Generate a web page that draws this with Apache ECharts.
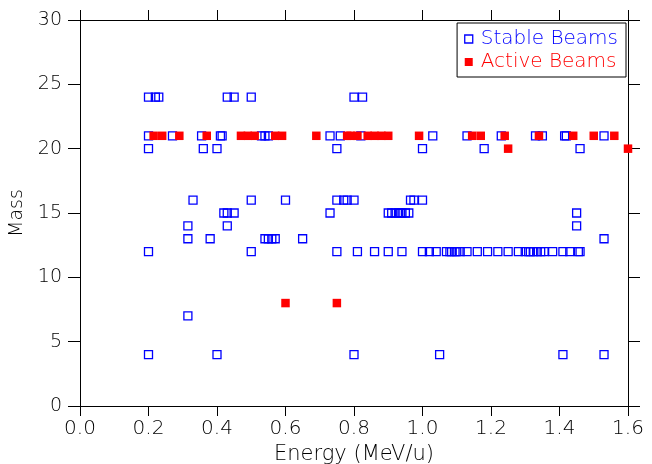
<!DOCTYPE html>
<html><head><meta charset="utf-8">
<script src="https://cdn.jsdelivr.net/npm/echarts@6/dist/echarts.min.js"></script>
<style>html,body{margin:0;padding:0;background:#fff}#c{width:652px;height:464px}</style>
</head><body><div id="c"></div>
<script>
// Stable beams: energy (MeV/u) values for each mass row
const stableMass24 = [0.20, 0.22, 0.23, 0.43, 0.45, 0.50, 0.80, 0.825];
const stableMass21 = [0.20, 0.27, 0.355, 0.41, 0.415, 0.53, 0.54, 0.55, 0.73, 0.76, 0.82, 1.03, 1.13, 1.23, 1.33, 1.35, 1.415, 1.42, 1.53];
const stableMass20 = [0.20, 0.36, 0.40, 0.75, 1.00, 1.18, 1.46];
const stableMass16 = [0.33, 0.50, 0.60, 0.75, 0.77, 0.78, 0.80, 0.965, 0.975, 1.00];
const stableMass15 = [0.42, 0.43, 0.45, 0.73, 0.90, 0.91, 0.92, 0.93, 0.935, 0.94, 0.95, 0.96, 1.45];
const stableMass14 = [0.315, 0.43, 1.45];
const stableMass13 = [0.315, 0.38, 0.54, 0.55, 0.56, 0.57, 0.65, 1.53];
const stableMass12 = [0.20, 0.50, 0.75, 0.81, 0.86, 0.90, 0.94, 1.00, 1.02, 1.04, 1.07, 1.08, 1.085, 1.095, 1.10, 1.11, 1.13, 1.16, 1.19, 1.22, 1.25, 1.28, 1.30, 1.31, 1.315, 1.325, 1.335, 1.345, 1.355, 1.38, 1.41, 1.43, 1.455, 1.46];
const stableMass7 = [0.315];
const stableMass4 = [0.20, 0.40, 0.80, 1.05, 1.41, 1.53];
// Active beams
const activeMass21 = [0.215, 0.24, 0.29, 0.37, 0.47, 0.49, 0.51, 0.57, 0.59, 0.69, 0.78, 0.79, 0.81, 0.84, 0.86, 0.88, 0.90, 0.99, 1.145, 1.17, 1.24, 1.34, 1.44, 1.50, 1.56];
const activeMass20 = [1.25, 1.60];
const activeMass8 = [0.60, 0.75];

const stableRows = [[24, stableMass24],[21, stableMass21],[20, stableMass20],[16, stableMass16],[15, stableMass15],[14, stableMass14],[13, stableMass13],[12, stableMass12],[7, stableMass7],[4, stableMass4]];
const activeRows = [[21, activeMass21],[20, activeMass20],[8, activeMass8]];
function pairs(rows){const out=[];rows.forEach(([m,es])=>es.forEach(e=>out.push([e,m])));return out;}

const FONT = "'DejaVu Sans'";
const txt = {color:'#000', fontFamily:FONT, fontSize:19, fontWeight:200};
const chart = echarts.init(document.getElementById('c'), null, {renderer:'canvas'});
const xBase = {type:'value', min:0, max:1.6, interval:0.2, splitLine:{show:false},
  axisLine:{show:true, onZero:false, lineStyle:{color:'#000', width:1}},
  axisTick:{show:true, inside:false, length:10, lineStyle:{color:'#000'}}};
const yBase = {type:'value', min:0, max:30, interval:5, splitLine:{show:false},
  axisLine:{show:true, onZero:false, lineStyle:{color:'#000', width:1}},
  axisTick:{show:true, inside:false, length:12, lineStyle:{color:'#000'}}};
chart.setOption({
  animation:false,
  backgroundColor:'#fff',
  grid:{left:80, right:24, top:20, bottom:58, show:false, containLabel:false, outerBoundsMode:'none'},
  xAxis:[
    Object.assign({}, xBase, {position:'bottom', name:'Energy (MeV/u)', nameLocation:'middle', nameGap:35,
      nameTextStyle:Object.assign({}, txt, {fontSize:21}),
      axisLabel:Object.assign({}, txt, {fontSize:20, margin:13, formatter:v=>v.toFixed(1)})}),
    Object.assign({}, xBase, {position:'top', axisLabel:{show:false}})
  ],
  yAxis:[
    Object.assign({}, yBase, {position:'left', name:'Mass', nameLocation:'middle', nameGap:52, nameRotate:90,
      nameTextStyle:Object.assign({}, txt, {fontSize:19}),
      axisLabel:Object.assign({}, txt, {margin:18})}),
    Object.assign({}, yBase, {position:'right', axisLabel:{show:false}})
  ],
  legend:{
    orient:'vertical', right:26, top:23, padding:[6,8,5,7], itemGap:3,
    itemWidth:8, itemHeight:8, borderColor:'#000', borderWidth:1, backgroundColor:'#fff',
    textStyle:Object.assign({}, txt, {fontSize:20, padding:[0,0,0,3]}),
    data:[
      {name:'Stable Beams', icon:'rect', itemStyle:{color:'#fff', borderColor:'#0000ff', borderWidth:1.3}, textStyle:{color:'#0000ff'}},
      {name:'Active Beams', icon:'rect', itemStyle:{color:'#ff0000'}, textStyle:{color:'#ff0000'}}
    ]
  },
  series:[
    {name:'Stable Beams', type:'scatter', symbol:'rect', symbolSize:8,
      itemStyle:{color:'rgba(255,255,255,0)', borderColor:'#0000ff', borderWidth:1.3, opacity:1},
      data:pairs(stableRows), z:2},
    {name:'Active Beams', type:'scatter', symbol:'rect', symbolSize:8.5,
      itemStyle:{color:'#ff0000', opacity:1},
      data:pairs(activeRows), z:3}
  ]
});
</script></body></html>
